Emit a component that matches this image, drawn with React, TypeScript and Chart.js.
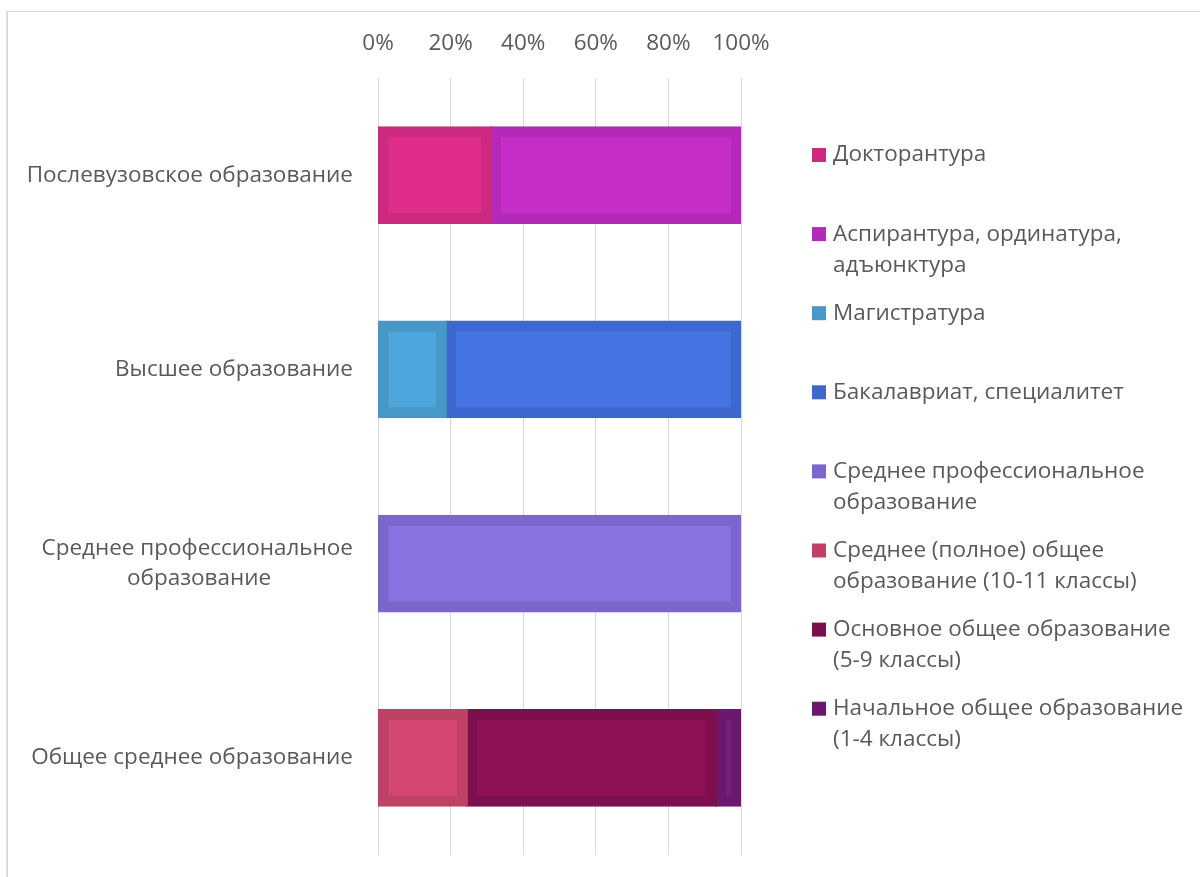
import React, { useEffect, useRef } from 'react';
import { Chart, registerables } from 'chart.js';

Chart.register(...registerables);

// ---- data ----
const categories: (string | string[])[] = [
  'Послевузовское образование',
  'Высшее образование',
  ['Среднее профессиональное', 'образование'],
  'Общее среднее образование',
];

const seriesNames = [
  'Докторантура',
  'Аспирантура, ординатура, адъюнктура',
  'Магистратура',
  'Бакалавриат, специалитет',
  'Среднее профессиональное образование',
  'Среднее (полное) общее образование (10-11 классы)',
  'Основное общее образование (5-9 классы)',
  'Начальное общее образование (1-4 классы)',
];

const legendLines: string[][] = [
  ['Докторантура'],
  ['Аспирантура, ординатура,', 'адъюнктура'],
  ['Магистратура'],
  ['Бакалавриат, специалитет'],
  ['Среднее профессиональное', 'образование'],
  ['Среднее (полное) общее', 'образование (10-11 классы)'],
  ['Основное общее образование', '(5-9 классы)'],
  ['Начальное общее образование', '(1-4 классы)'],
];

const doctorate = [31.1, null, null, null];
const postgraduate = [68.9, null, null, null];
const masters = [null, 18.7, null, null];
const bachelors = [null, 81.3, null, null];
const vocational = [null, null, 100, null];
const secondaryFull = [null, null, null, 24.5];
const basicGeneral = [null, null, null, 68.6];
const primaryGeneral = [null, null, null, 6.9];

const seriesValues = [
  doctorate,
  postgraduate,
  masters,
  bachelors,
  vocational,
  secondaryFull,
  basicGeneral,
  primaryGeneral,
];

const fillColors = ['#E02D8C', '#C62ECA', '#4EA6DC', '#4573E3', '#8872E0', '#D44772', '#8E1156', '#76207A'];
const borderColors = ['#CC2A7E', '#B42AB8', '#4797C9', '#3E68CE', '#7C66CB', '#BF4266', '#7E0F4F', '#6A1A6E'];

const xTickValues = [0, 20, 40, 60, 80, 100];
const xTickLabels = ['0%', '20%', '40%', '60%', '80%', '100%'];

const FONT_FAMILY = '"Open Sans", "Noto Sans", sans-serif';
const FONT_SIZE = 22.5;
const TEXT = '#595959';

// centre the lines of a multi-line right-aligned axis label by padding with spaces
function centreLines(lines: string[]): string[] {
  const c = document.createElement('canvas').getContext('2d');
  if (!c) return lines;
  c.font = `${FONT_SIZE}px ${FONT_FAMILY}`;
  const widths = lines.map((l) => c.measureText(l).width);
  const max = Math.max(...widths);
  const sp = c.measureText(' ').width || 6;
  return lines.map((l, i) => l + ' '.repeat(Math.max(0, Math.round((max - widths[i]) / 2 / sp))));
}

const sideLegend = {
  id: 'sideLegend',
  afterDraw(chart: any, _args: any, opts: any) {
    const { ctx, chartArea } = chart;
    ctx.save();
    ctx.font = `${FONT_SIZE}px ${FONT_FAMILY}`;
    ctx.textBaseline = 'middle';
    ctx.textAlign = 'left';
    chart.data.datasets.forEach((ds: any, i: number) => {
      const bx = chartArea.right + opts.offsetX;
      const cy = chartArea.top + opts.offsetY + i * opts.pitch;
      ctx.fillStyle = ds.borderColor;
      ctx.fillRect(bx, cy - opts.box / 2, opts.box, opts.box);
      ctx.fillStyle = opts.color;
      legendLines[i].forEach((line, j) => {
        ctx.fillText(line, bx + opts.box + opts.gap, cy + j * opts.lineGap);
      });
    });
    ctx.restore();
  },
};

export default function App() {
  const ref = useRef<HTMLCanvasElement | null>(null);

  useEffect(() => {
    if (!ref.current) return;
    const labels = categories.map((c) => (Array.isArray(c) ? centreLines(c) : c));
    const chart = new Chart(ref.current, {
      type: 'bar',
      data: {
        labels,
        datasets: seriesValues.map((vals, i) => ({
          label: seriesNames[i],
          data: vals,
          backgroundColor: fillColors[i],
          borderColor: borderColors[i],
          borderWidth: 11,
          borderSkipped: false,
          inflateAmount: 1,
          barPercentage: 0.494,
          categoryPercentage: 1,
        })),
      },
      plugins: [sideLegend],
      options: {
        indexAxis: 'y',
        animation: false,
        responsive: true,
        maintainAspectRatio: false,
        layout: { padding: { top: 0, left: 0, right: 459, bottom: 22 } },
        scales: {
          x: {
            type: 'linear',
            position: 'top',
            stacked: true,
            min: 0,
            max: 100,
            afterBuildTicks: (s: any) => {
              s.ticks = xTickValues.map((v) => ({ value: v }));
            },
            afterFit: (s: any) => {
              s.height = 66;
            },
            ticks: {
              autoSkip: false,
              maxRotation: 0,
              minRotation: 0,
              padding: 20.5,
              color: TEXT,
              font: { family: FONT_FAMILY, size: FONT_SIZE },
              callback: (_v: any, idx: number) => xTickLabels[idx],
            },
            grid: { color: '#d9d9d9', lineWidth: 1, drawTicks: false },
            border: { display: false },
          },
          y: {
            type: 'category',
            stacked: true,
            afterFit: (s: any) => {
              s.width = 370;
              s.paddingTop = 0;
              s.paddingBottom = 0;
            },
            ticks: {
              padding: 25,
              color: TEXT,
              font: { family: FONT_FAMILY, size: FONT_SIZE, lineHeight: 30 / FONT_SIZE },
            },
            grid: { display: false, drawTicks: false },
            border: { display: false },
          },
        },
        plugins: {
          tooltip: { enabled: false },
          legend: { display: false },
          sideLegend: {
            offsetX: 71,
            offsetY: 77,
            pitch: 79.1,
            lineGap: 31,
            box: 14,
            gap: 7,
            color: TEXT,
          },
        } as any,
      },
    });
    return () => chart.destroy();
  }, []);

  return (
    <div
      style={{
        position: 'absolute',
        left: 6,
        top: 11,
        width: 1194,
        height: 866,
        overflow: 'hidden',
        boxSizing: 'border-box',
        borderLeft: '2px solid #d9d9d9',
        borderTop: '1px solid #d9d9d9',
        background: '#ffffff',
      }}
    >
      <div style={{ position: 'relative', width: 1192, height: 865 }}>
        <canvas ref={ref} />
      </div>
    </div>
  );
}
